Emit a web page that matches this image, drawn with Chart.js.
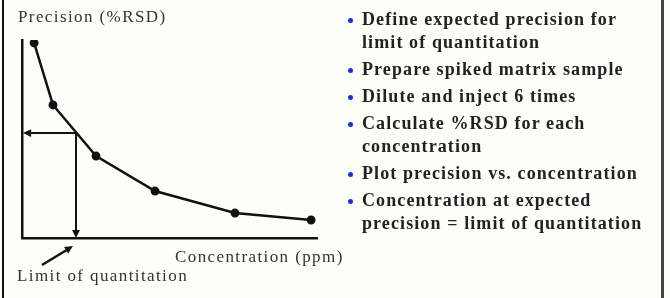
<!DOCTYPE html>
<html>
<head>
<meta charset="utf-8">
<script src="https://cdn.jsdelivr.net/npm/chart.js@4"></script>
<style>
  html, body { margin: 0; padding: 0; background: #fefef9; }
  #wrap { position: relative; width: 670px; height: 298px; overflow: hidden; background: #fefef9; }
  #leftBorder { position: absolute; left: 2px; top: 0; width: 2px; height: 298px; background: #111; }
  #rightBorder { position: absolute; left: 661px; top: 0; width: 3px; height: 298px; background: #444; }
  #chart { position: absolute; left: 0; top: 0; }
  #notes { position: absolute; left: 344px; top: 8px; margin: 0; padding: 0; list-style: none;
    font-family: "Liberation Serif", "Times New Roman", serif; font-weight: bold; font-size: 18px;
    color: #222; letter-spacing: 1.1px; }
  #notes li { position: relative; padding-left: 18px; line-height: 23px; margin-bottom: 4px; white-space: nowrap; }
  #notes li::before { content: ""; position: absolute; left: 4px; top: 10px; width: 5px; height: 5px;
    border-radius: 50%; background: #1a2fd0; }
</style>
</head>
<body>
<div id="wrap">
  <canvas id="chart" width="350" height="298"></canvas>
  <ul id="notes"></ul>
  <div id="leftBorder"></div>
  <div id="rightBorder"></div>
</div>
<script>
// concentration (ppm, arbitrary scale) vs precision (%RSD, arbitrary scale)
const concentration = [4.1, 10.5, 25.1, 45.1, 72.2, 98];
const precision = [98.5, 67.2, 41.4, 23.7, 12.6, 9.1];
const loqConcentration = 18.3;
const loqPrecision = 53;
const yLabel = 'Precision (%RSD)';
const xLabel = 'Concentration (ppm)';
const loqLabel = 'Limit of quantitation';
const steps = [
  ['Define expected precision for', 'limit of quantitation'],
  ['Prepare spiked matrix sample'],
  ['Dilute and inject 6 times'],
  ['Calculate %RSD for each', 'concentration'],
  ['Plot precision vs. concentration'],
  ['Concentration at expected', 'precision = limit of quantitation']
];

const notes = document.getElementById('notes');
steps.forEach(lines => {
  const li = document.createElement('li');
  lines.forEach((t, i) => {
    if (i) li.appendChild(document.createElement('br'));
    li.appendChild(document.createTextNode(t));
  });
  notes.appendChild(li);
});

const ink = '#111';

function arrowHead(ctx, x1, y1, x2, y2, size) {
  const a = Math.atan2(y2 - y1, x2 - x1);
  ctx.beginPath();
  ctx.moveTo(x2, y2);
  ctx.lineTo(x2 - size * Math.cos(a - 0.45), y2 - size * Math.sin(a - 0.45));
  ctx.lineTo(x2 - size * Math.cos(a + 0.45), y2 - size * Math.sin(a + 0.45));
  ctx.closePath();
  ctx.fill();
}

// labels and the LOQ read-off arrows
const annotations = {
  id: 'annotations',
  afterDatasetsDraw(chart) {
    const { ctx, chartArea: { left, bottom }, scales: { x, y } } = chart;
    const px = x.getPixelForValue(loqConcentration);
    const py = y.getPixelForValue(loqPrecision);
    ctx.save();
    ctx.strokeStyle = ink;
    ctx.fillStyle = ink;
    ctx.lineWidth = 2;
    // horizontal arrow to the y axis
    ctx.beginPath();
    ctx.moveTo(px, py);
    ctx.lineTo(left + 3, py);
    ctx.stroke();
    arrowHead(ctx, px, py, left + 1, py, 9);
    // vertical arrow down to the x axis
    ctx.beginPath();
    ctx.moveTo(px, py);
    ctx.lineTo(px, bottom - 3);
    ctx.stroke();
    arrowHead(ctx, px, py, px, bottom, 9);
    // pointer from the label
    ctx.lineWidth = 2.5;
    ctx.beginPath();
    ctx.moveTo(px - 34, bottom + 27);
    ctx.lineTo(px - 6, bottom + 10);
    ctx.stroke();
    arrowHead(ctx, px - 34, bottom + 27, px - 3, bottom + 8, 9);

    ctx.fillStyle = '#333';
    ctx.font = '17px "Liberation Serif", serif';
    ctx.letterSpacing = '1.4px';
    ctx.textBaseline = 'middle';
    ctx.fillText(yLabel, 18, 18);
    ctx.fillText(xLabel, 175, 258);
    ctx.fillText(loqLabel, 17, 277);
    ctx.restore();
  }
};

new Chart(document.getElementById('chart'), {
  type: 'scatter',
  data: {
    datasets: [{
      data: concentration.map((c, i) => ({ x: c, y: precision[i] })),
      showLine: true,
      borderColor: ink,
      backgroundColor: ink,
      borderWidth: 2.5,
      pointRadius: 3.2,
      pointHoverRadius: 3.2,
      tension: 0
    }]
  },
  options: {
    responsive: false,
    animation: false,
    layout: { padding: { left: 22, top: 40, right: 33, bottom: 60 } },
    plugins: { legend: { display: false }, tooltip: { enabled: false } },
    scales: {
      x: {
        min: 0, max: 100,
        grid: { display: false, drawTicks: false },
        ticks: { display: false },
        border: { display: true, color: ink, width: 2.5 },
        afterFit: s => { s.height = 0; }
      },
      y: {
        min: 0, max: 100,
        grid: { display: false, drawTicks: false },
        ticks: { display: false },
        border: { display: true, color: ink, width: 2.5 },
        afterFit: s => { s.width = 0; }
      }
    }
  },
  plugins: [annotations]
});
</script>
</body>
</html>
